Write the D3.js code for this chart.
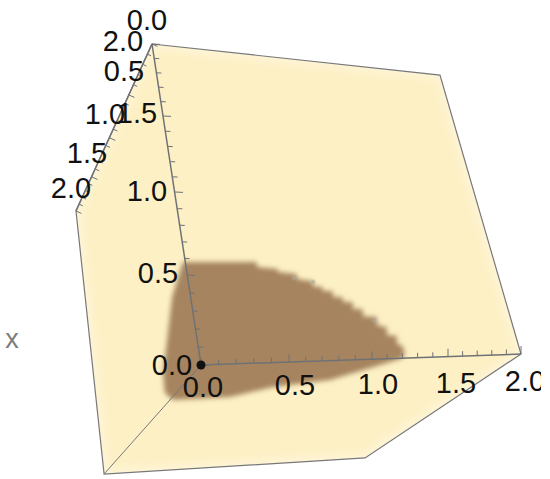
<!DOCTYPE html>
<html><head><meta charset="utf-8">
<script src="https://cdn.jsdelivr.net/npm/d3@7"></script>
<style>html,body{margin:0;padding:0;background:#fff}svg{display:block}text{font-family:"Liberation Sans",Arial,sans-serif}</style>
</head><body><svg id="c" width="550" height="479"></svg>
<script>
// values on the two axes (u = bottom axis, v = vertical axis)
const tickValues = [0, 0.5, 1, 1.5, 2];
const tickLabels = ["0.0", "0.5", "1.0", "1.5", "2.0"];
const boxU = [0, 1.761, 2, 0.932, -0.706, -0.631];
const boxV = [2, 1.746, 0, -0.611, -0.655, 0.982];
const regionU = [-0.015,0.445,0.440,0.569,0.566,0.682,0.678,0.775,0.770,0.831,0.827,0.890,0.885,0.947,0.942,1.004,0.997,1.059,1.053,1.139,1.131,1.191,1.184,1.246,1.238,1.273,1.277,1.263,1.048,0.788,0.427,0.150,-0.207,-0.251,-0.244,-0.187,-0.115];
const regionV = [0.642,0.626,0.595,0.579,0.560,0.544,0.513,0.496,0.465,0.457,0.432,0.430,0.393,0.391,0.360,0.358,0.315,0.312,0.268,0.260,0.211,0.195,0.146,0.138,0.088,0.075,0.025,0,-0.055,-0.120,-0.151,-0.204,-0.211,-0.166,-0.042,0.162,0.427];
const spotU = [0.775, 1.12, 0.66];
const spotV = [0.49, 0.24, 0.52];

const W = 550, H = 479;
const svg = d3.select("#c");

// affine frame of the box
const ux = d3.scaleLinear([0,2],[201,521]), uy = d3.scaleLinear([0,2],[0,-11]);
const vx = d3.scaleLinear([0,2],[0,-49]),  vy = d3.scaleLinear([0,2],[365,44]);
const project = (u,v)=>[ux(u)+vx(v), uy(u)+vy(v)];

// axes, foreshortened by perspective
const axes = [
  {x:d3.scaleLinear(tickValues,[201,289,372,448,521]), y:d3.scaleLinear([0,2],[365,354]),
   tick:[0,-1], lx:[203,295,378,456,525], ly:[387,385,384,383,381], major:8, minor:5},
  {x:d3.scaleLinear(tickValues,[201,187,175,163,152]), y:d3.scaleLinear(tickValues,[365,275,192,116,44]),
   tick:[1,0.05], lx:[172,158,147,137,123], ly:[365,273,191,113,41], major:8, minor:5},
  {x:d3.scaleLinear(tickValues,[152,129,110,92,76]), y:d3.scaleLinear(tickValues,[44,95,138,177,211]),
   tick:[0.9,0.4], lx:[147,124,105,87,71], ly:[20,71,114,153,188], major:6, minor:4}
];

const defs = svg.append("defs");
defs.append("filter").attr("id","soft").attr("x","-10%").attr("y","-10%").attr("width","120%").attr("height","120%")
  .append("feGaussianBlur").attr("stdDeviation",2.6);
defs.append("filter").attr("id","edge").attr("x","-10%").attr("y","-10%").attr("width","120%").attr("height","120%")
  .append("feGaussianBlur").attr("stdDeviation",4);
defs.append("filter").attr("id","dot").append("feGaussianBlur").attr("stdDeviation",1.2);
const boxPts = boxU.map((u,i)=>project(u,boxV[i]));
const boxPath = d3.line()(boxPts)+"Z";
defs.append("clipPath").attr("id","boxclip").append("path").attr("d",boxPath);
defs.append("clipPath").attr("id","page").append("rect").attr("width",541).attr("height",H);

svg.append("path").attr("d",boxPath).attr("fill","#fdf0c5");
svg.append("g").attr("clip-path","url(#boxclip)").append("path").attr("d",boxPath)
  .attr("fill","none").attr("stroke","#fff6dc").attr("stroke-width",8).attr("filter","url(#edge)");

const regionPts = regionU.map((u,i)=>project(u,regionV[i]));
svg.append("path").attr("d",d3.line()(regionPts)+"Z").attr("fill","#a5845f").attr("filter","url(#soft)");
svg.selectAll("circle.s").data(spotU).join("circle").attr("class","s")
  .attr("cx",(d,i)=>project(d,spotV[i])[0]).attr("cy",(d,i)=>project(d,spotV[i])[1])
  .attr("r",2).attr("fill","#a9a89c").attr("filter","url(#dot)");

const edge = "#77787a";
svg.append("path").attr("d",boxPath).attr("fill","none").attr("stroke",edge).attr("stroke-width",1.2);
const o = project(0,0);
svg.append("line").attr("x1",o[0]).attr("y1",o[1]).attr("x2",boxPts[4][0]).attr("y2",boxPts[4][1]).attr("stroke",edge).attr("stroke-width",1);

const minor = d3.range(0,21).map(d=>d/10);
axes.forEach(a=>{
  const g = svg.append("g");
  g.append("line").attr("x1",a.x(0)).attr("y1",a.y(0)).attr("x2",a.x(2)).attr("y2",a.y(2))
    .attr("stroke","#6f7275").attr("stroke-width",1.5);
  g.selectAll("line.t").data(minor).join("line").attr("class","t")
    .attr("x1",d=>a.x(d)).attr("y1",d=>a.y(d))
    .attr("x2",(d,i)=>a.x(d)+a.tick[0]*(i%5===0?a.major:a.minor))
    .attr("y2",(d,i)=>a.y(d)+a.tick[1]*(i%5===0?a.major:a.minor))
    .attr("stroke","#6f7275").attr("stroke-width",1);
});
svg.append("circle").attr("cx",o[0]).attr("cy",o[1]).attr("r",4.5).attr("fill","#111");

const lab = svg.append("g").attr("clip-path","url(#page)");
axes.forEach(a=>{
  lab.selectAll(null).data(tickLabels).join("text")
    .attr("x",(d,i)=>a.lx[i]).attr("y",(d,i)=>a.ly[i]).attr("dy","0.35em")
    .attr("text-anchor","middle").attr("font-size",29).attr("fill","#111").text(d=>d);
});
svg.append("text").attr("x",12).attr("y",340).attr("dy","0.3em").attr("text-anchor","middle")
  .attr("font-size",27).attr("fill","#7d7d7d").text("x");
</script></body></html>
